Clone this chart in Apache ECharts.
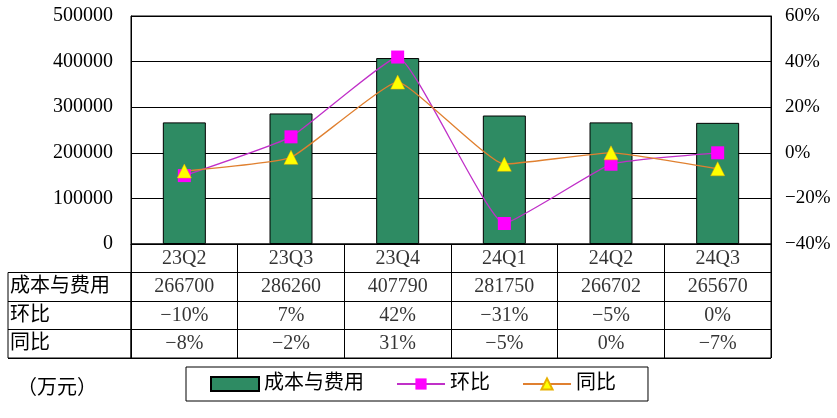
<!DOCTYPE html>
<html><head><meta charset="utf-8">
<script src="https://cdn.jsdelivr.net/npm/echarts@6/dist/echarts.min.js"></script>
<style>html,body{margin:0;padding:0;background:#fff}#c{width:837px;height:418px}</style>
</head><body><div id="c"></div>
<script>
const categories = ['23Q2','23Q3','23Q4','24Q1','24Q2','24Q3'];
const costValues = [266700, 286260, 407790, 281750, 266702, 265670];
const qoqValues = [-10, 7, 42, -31, -5, 0];
const yoyValues = [-8, -2, 31, -5, 0, -7];
const rowNames = ['成本与费用','环比','同比'];
const seriesNames = ['成本与费用','环比','同比'];
const unitText = '（万元）';

const FONT = "'Liberation Serif', 'Noto Sans CJK SC', serif";
const pct = v => (v < 0 ? '\u2212' + Math.abs(v) : String(v)) + '%';

const tableCells = [];
categories.forEach((c, i) => {
  tableCells.push([i, 0, c]);
  tableCells.push([i, 1, String(costValues[i])]);
  tableCells.push([i, 2, pct(qoqValues[i])]);
  tableCells.push([i, 3, pct(yoyValues[i])]);
});

const chart = echarts.init(document.getElementById('c'));
chart.setOption({
  animation: false,
  backgroundColor: '#fff',
  textStyle: { fontFamily: FONT },
  title: { text: unitText, left: 12, top: 374, textStyle: { fontFamily: FONT, fontSize: 20, fontWeight: 'normal', color: '#000' } },
  legend: {
    data: [{ name: seriesNames[0], icon: 'rect' }, { name: seriesNames[1] }, { name: seriesNames[2] }],
    left: 186, top: 367,
    padding: [7, 32, 7, 24], itemGap: 32, itemWidth: 48, itemHeight: 14,
    borderColor: '#000', borderWidth: 1,
    textStyle: { fontFamily: FONT, fontSize: 20, color: '#000' }
  },
  grid: [
    { left: 131, right: 66, top: 16, height: 228, show: true, borderColor: '#000', borderWidth: 1 },
    { left: 131, right: 66, top: 244, height: 114, show: true, borderColor: '#000', borderWidth: 1 },
    { left: 8, width: 123, top: 272.5, height: 85.5, show: true, borderColor: '#000', borderWidth: 1 }
  ],
  xAxis: [
    { gridIndex: 0, type: 'category', data: categories, axisLine: { lineStyle: { color: '#000' } }, axisTick: { show: false }, axisLabel: { show: false } },
    { gridIndex: 1, type: 'category', data: categories, axisLine: { show: false }, axisTick: { show: false }, axisLabel: { show: false },
      splitLine: { show: true, interval: 0, lineStyle: { color: '#000' } } },
    { gridIndex: 2, type: 'value', show: false, min: 0, max: 1 }
  ],
  yAxis: [
    { gridIndex: 0, type: 'value', min: 0, max: 500000, interval: 100000,
      axisLine: { show: true, lineStyle: { color: '#000' } }, axisTick: { show: false },
      axisLabel: { color: '#000', fontSize: 20, fontFamily: FONT, margin: 18, formatter: v => String(v) },
      splitLine: { lineStyle: { color: '#000' } } },
    { gridIndex: 0, type: 'value', min: -40, max: 60, interval: 20, position: 'right',
      axisLine: { show: true, lineStyle: { color: '#000' } }, axisTick: { show: false },
      axisLabel: { color: '#000', fontSize: 19, fontFamily: FONT, margin: 14, formatter: v => pct(v) },
      splitLine: { show: false } },
    { gridIndex: 1, type: 'category', data: ['h', 'c', 'q', 'y'], inverse: true,
      axisLine: { show: false }, axisTick: { show: false }, axisLabel: { show: false },
      splitLine: { show: true, interval: 0, lineStyle: { color: '#000' } } },
    { gridIndex: 2, type: 'category', data: rowNames, inverse: true,
      axisLine: { show: false }, axisTick: { show: false },
      axisLabel: { inside: true, margin: 2, color: '#000', fontSize: 20, fontFamily: FONT, align: 'left' },
      splitLine: { show: true, interval: 0, lineStyle: { color: '#000' } } }
  ],
  series: [
    { name: seriesNames[0], type: 'bar', xAxisIndex: 0, yAxisIndex: 0, data: costValues, barWidth: 43,
      itemStyle: { color: '#2e8b63', borderColor: '#000', borderWidth: 1 } },
    { name: seriesNames[1], type: 'line', xAxisIndex: 0, yAxisIndex: 1, data: qoqValues, smooth: 0.12,
      symbol: 'rect', symbolSize: 13, itemStyle: { color: '#ff00ff' }, lineStyle: { color: '#c030c8', width: 1.3 } },
    { name: seriesNames[2], type: 'line', xAxisIndex: 0, yAxisIndex: 1, data: yoyValues, smooth: 0.12,
      symbol: 'triangle', symbolSize: 14, itemStyle: { color: '#ffff00', borderColor: '#e8b000', borderWidth: 0.5 },
      lineStyle: { color: '#e08030', width: 1.3 } },
    { type: 'scatter', xAxisIndex: 1, yAxisIndex: 2, data: tableCells, symbolSize: 1,
      itemStyle: { color: 'rgba(0,0,0,0)' }, silent: true,
      label: { show: true, position: 'inside', formatter: p => p.value[2], color: '#000', fontSize: 20, fontFamily: FONT } },
    { type: 'scatter', xAxisIndex: 2, yAxisIndex: 3, data: [] }
  ]
});
</script></body></html>
